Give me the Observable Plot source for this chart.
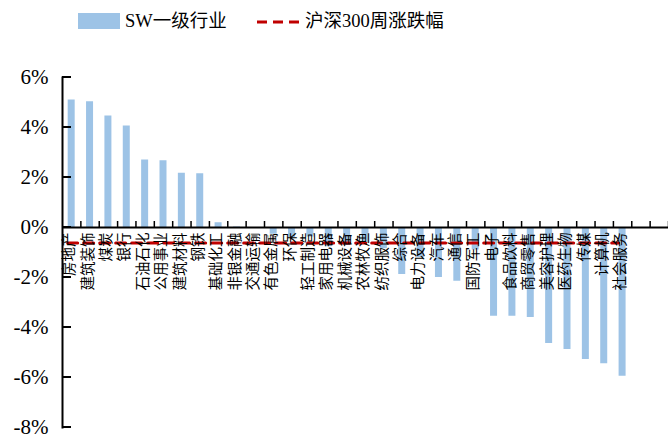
<!DOCTYPE html>
<html>
<head>
<meta charset="utf-8">
<script src="https://cdn.jsdelivr.net/npm/d3@7"></script>
<script src="https://cdn.jsdelivr.net/npm/@observablehq/plot@0.6"></script>
<style>
  html, body { margin: 0; padding: 0; background: #fff; }
  #wrap { width: 668px; height: 436px; overflow: hidden; position: relative; }
  #legend { position: relative; height: 50px; font-family: "Liberation Serif", "Times New Roman", "Noto Sans CJK SC", serif; font-size: 18.5px; color: #000; }
  .sw { position: absolute; left: 78px; top: 13px; width: 42px; height: 16px; background: #9dc3e6; }
  .t1 { position: absolute; left: 125px; top: 8px; line-height: 26px; }
  .dash { position: absolute; left: 257px; top: 19px; }
  .t2 { position: absolute; left: 305px; top: 8px; line-height: 26px; }
</style>
</head>
<body>
<div id="wrap">
  <div id="legend">
    <div class="sw"></div><div class="t1">SW一级行业</div>
    <svg class="dash" width="42" height="6"><line x1="0" y1="3" x2="42" y2="3" stroke="#c00000" stroke-width="3" stroke-dasharray="10,6"/></svg>
    <div class="t2">沪深300周涨跌幅</div>
  </div>
  <div id="chart"></div>
</div>
<script>
const industries = ["房地产","建筑装饰","煤炭","银行","石油石化","公用事业","建筑材料","钢铁","基础化工","非银金融","交通运输","有色金属","环保","轻工制造","家用电器","机械设备","农林牧渔","纺织服饰","综合","电力设备","汽车","通信","国防军工","电子","食品饮料","商贸零售","美容护理","医药生物","传媒","计算机","社会服务"];
const weeklyChange = [5.10,5.03,4.46,4.06,2.70,2.67,2.17,2.15,0.19,0.02,-0.03,-0.27,-0.40,-0.38,-0.77,-0.72,-0.65,-0.85,-1.88,-1.20,-2.00,-2.15,-0.90,-3.55,-3.55,-3.60,-4.64,-4.88,-5.28,-5.45,-5.95];
const hs300 = -0.62;
const blankSlots = ["", " "];
const yTicks = [-8,-6,-4,-2,0,2,4,6];

const rows = industries.map((name, i) => ({name, value: weeklyChange[i], hs: hs300}));
const domainX = industries.concat(blankSlots);
const tickRows = yTicks.map(v => ({v, cat: industries[0]}));

const W = 668, H = 386, mL = 62, mR = 0;
const step = (W - mL - mR) / domainX.length;
const font = "'Liberation Serif', 'Times New Roman', 'Noto Sans CJK SC', serif";

const chart = Plot.plot({
  width: W,
  height: H,
  marginLeft: mL,
  marginRight: mR,
  marginTop: 27,
  marginBottom: 9,
  style: {fontFamily: font, background: "#fff", color: "#000"},
  x: {domain: domainX, padding: 0, round: false, axis: null},
  y: {domain: [-8, 6], axis: null},
  marks: [
    Plot.barY(rows, {x: "name", y: "value", fill: "#9dc3e6", insetLeft: (step - 7) / 2, insetRight: (step - 7) / 2}),
    Plot.line(rows, {x: "name", y: "hs", stroke: "#c00000", strokeWidth: 3, strokeDasharray: "10,6", dx: -4}),
    Plot.text(rows, {x: "name", y: () => 0, text: "name", rotate: -90, textAnchor: "end", lineAnchor: "middle", dy: 5, dx: -2, fontSize: 14.5, fill: "#000", fontFamily: "'Noto Sans CJK SC', serif"}),
    Plot.ruleY([0], {stroke: "#000", strokeWidth: 2}),
    Plot.ruleX(domainX, {x: d => d, y1: 0, y2: 0.24, dx: step / 2, stroke: "#000", strokeWidth: 1.5}),
    Plot.barY(tickRows, {x: "cat", y1: "v", y2: "v", fill: "#000", insetLeft: 0, insetRight: step - 9, insetTop: -1, insetBottom: -1}),
    Plot.frame({anchor: "left", stroke: "#000", strokeWidth: 2}),
    Plot.axisY({ticks: yTicks, anchor: "left", tickSize: 0, tickPadding: 14, tickFormat: d => d + "%", fontSize: 21, fontFamily: font})
  ]
});
document.getElementById("chart").appendChild(chart);
</script>
</body>
</html>
